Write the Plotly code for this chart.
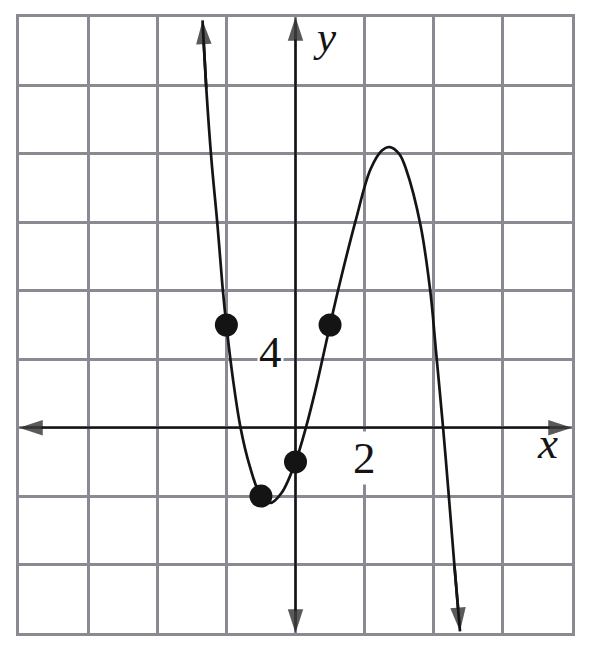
import plotly.graph_objects as go

# Curve samples (x in axis units, y in axis units)
curve_x = [-2.69, -2.58, -2.43, -2.26, -2.11, -2.0, -1.8, -1.59, -1.33, -1.0, -0.73, -0.4, 0.0,
           0.3, 0.6, 1.0, 1.3, 1.74, 2.17, 2.5, 2.73, 3.0, 3.2, 3.62, 3.91, 4.05, 4.27, 4.42, 4.6, 4.76]
curve_y = [23.8, 19.8, 15.6, 11.9, 8.2, 6.0, 2.7, 0.0, -2.2, -4.0, -4.4, -3.8, -2.0,
           0.0, 2.4, 6.0, 8.6, 12.1, 15.1, 16.2, 16.4, 16.0, 15.1, 11.8, 7.8, 4.8, 0.0, -3.6, -8.1, -11.9]

# Highlighted points
dot_x = [-2, -1, 0, 1]
dot_y = [6, -4, -2, 6]

# Axis window and grid steps
x_range = [-8, 8]
y_range = [-12, 24]
x_step = 2
y_step = 4

# Tick labels shown on the picture
x_label = {"value": 2, "text": "2"}
y_label = {"value": 4, "text": "4"}

GRID = "#8a8a93"
INK = "#141414"
SERIF = "Liberation Serif"

fig = go.Figure()

# axes lines (x and y) with arrowheads at both ends
for xs, ys in [([0, x_range[0]], [0, 0]), ([0, x_range[1]], [0, 0]),
               ([0, 0], [0, y_range[0]]), ([0, 0], [0, y_range[1]])]:
    fig.add_trace(go.Scatter(
        x=xs, y=ys, mode="lines+markers", cliponaxis=False,
        line=dict(color=INK, width=2.4),
        marker=dict(symbol="arrow", size=[0, 25], angleref="previous", color=INK,
                    line=dict(width=0)),
        hoverinfo="skip", showlegend=False))

# the curve
fig.add_trace(go.Scatter(
    x=curve_x, y=curve_y, mode="lines", cliponaxis=False,
    line=dict(color=INK, width=2.7, shape="spline", smoothing=1.0),
    hoverinfo="skip", showlegend=False))

# arrowheads at curve ends
for idx_prev, idx_tip in [(1, 0), (-2, -1)]:
    fig.add_trace(go.Scatter(
        x=[curve_x[idx_prev], curve_x[idx_tip]], y=[curve_y[idx_prev], curve_y[idx_tip]],
        mode="lines+markers", cliponaxis=False,
        line=dict(color=INK, width=2.7),
        marker=dict(symbol="arrow", size=[0, 25], angleref="previous", color=INK,
                    line=dict(width=0)),
        hoverinfo="skip", showlegend=False))

# points
fig.add_trace(go.Scatter(
    x=dot_x, y=dot_y, mode="markers", cliponaxis=False,
    marker=dict(size=23, color=INK, line=dict(width=0)),
    hoverinfo="skip", showlegend=False))

axis_common = dict(showgrid=True, gridcolor=GRID, gridwidth=2.6, zeroline=False,
                   showticklabels=False, ticks="", showline=True, mirror=True,
                   linecolor=GRID, linewidth=2.6, fixedrange=True)
fig.update_xaxes(range=x_range, tick0=0, dtick=x_step, **axis_common)
fig.update_yaxes(range=y_range, tick0=0, dtick=y_step, **axis_common)

fig.add_annotation(x=0, y=y_label["value"], xref="x", yref="y", text=y_label["text"],
                   showarrow=False, xanchor="center", yanchor="middle", xshift=-25, yshift=7,
                   font=dict(family=SERIF, size=45, color=INK), bgcolor="white", borderpad=1)
fig.add_annotation(x=x_label["value"], y=0, xref="x", yref="y", text=x_label["text"],
                   showarrow=False, xanchor="center", yanchor="middle", xshift=0, yshift=-30,
                   font=dict(family=SERIF, size=45, color=INK), bgcolor="white", borderpad=1)
fig.add_annotation(x=0, y=1, xref="x", yref="paper", text="<i>y</i>",
                   showarrow=False, xanchor="center", yanchor="top", xshift=29, yshift=5,
                   font=dict(family=SERIF, size=43, color=INK), borderpad=0)
fig.add_annotation(x=x_range[1], y=0, xref="x", yref="y", text="<i>x</i>",
                   showarrow=False, xanchor="center", yanchor="middle", xshift=-25, yshift=-15,
                   font=dict(family=SERIF, size=45, color=INK))

fig.update_layout(width=604, height=667, margin=dict(l=11, r=40, t=6, b=42),
                  plot_bgcolor="white", paper_bgcolor="white")

fig.write_html("out.html")
